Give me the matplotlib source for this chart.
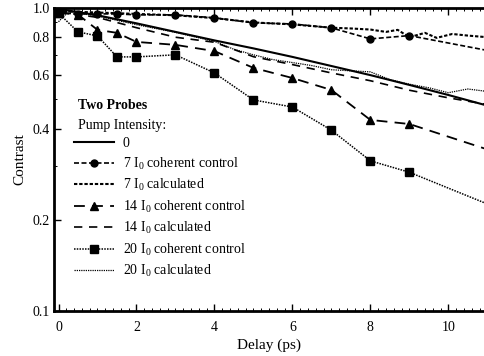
import matplotlib
matplotlib.use("Agg")
import matplotlib.pyplot as plt
from matplotlib.ticker import FixedLocator, NullFormatter, MultipleLocator
from matplotlib.lines import Line2D

plt.rcParams['font.family'] = ['Liberation Serif', 'DejaVu Serif']
plt.rcParams['mathtext.fontset'] = 'custom'
plt.rcParams['mathtext.rm'] = 'Liberation Serif'
plt.rcParams['mathtext.it'] = 'Liberation Serif:italic'

# data
x_pts = [0, 0.5, 1, 1.5, 2, 3, 4, 5, 6, 7, 8, 9, 12]
cc7 = [0.963, 0.955, 0.955, 0.955, 0.948, 0.948, 0.927, 0.892, 0.885, 0.859, 0.79, 0.81, 0.684]
cc14 = [0.963, 0.95, 0.846, 0.827, 0.772, 0.755, 0.72, 0.634, 0.587, 0.536, 0.427, 0.414, 0.31]
cc20 = [0.96, 0.833, 0.808, 0.689, 0.689, 0.70, 0.61, 0.497, 0.471, 0.395, 0.313, 0.287, 0.20]

x_zero = [0, 1, 2, 3, 4, 5, 6, 7, 8, 9, 10, 11]
zero = [0.992, 0.945, 0.889, 0.833, 0.781, 0.735, 0.689, 0.643, 0.60, 0.557, 0.516, 0.476]

x_calc7 = [0, 1, 2, 3, 4, 5, 6, 7, 7.5, 8, 8.4, 8.7, 9.0, 9.4, 9.7, 10.1, 10.5, 11]
calc7 = [0.975, 0.965, 0.955, 0.945, 0.925, 0.895, 0.882, 0.86, 0.855, 0.848, 0.833,
         0.846, 0.80, 0.827, 0.796, 0.82, 0.81, 0.80]

x_calc14 = [0, 1, 2, 3, 4, 5, 6, 7, 8, 9, 10, 11]
calc14 = [0.97, 0.93, 0.86, 0.80, 0.77, 0.69, 0.65, 0.61, 0.575, 0.535, 0.505, 0.48]

x_calc20 = [0, 0.25, 1, 2, 3, 4, 4.5, 5, 5.5, 6, 6.5, 7, 7.5, 8, 8.5, 9, 9.5, 10, 10.5, 11]
calc20 = [0.9, 0.97, 0.94, 0.88, 0.83, 0.775, 0.73, 0.70, 0.675, 0.66, 0.645, 0.625,
          0.62, 0.615, 0.58, 0.56, 0.545, 0.525, 0.54, 0.53]

fig = plt.figure(figsize=(4.85, 3.56), dpi=100)
ax = fig.add_axes([0.111, 0.126, 0.889, 0.852])

k = 'black'
ax.plot(x_zero, zero, color=k, lw=1.5, ls='-')
ax.plot(x_pts, cc7, color=k, lw=1.2, ls=(0, (3, 1.5)), marker='o', ms=5)
ax.plot(x_calc7, calc7, color=k, lw=1.5, ls=(0, (1.6, 0.9)))
ax.plot(x_pts, cc14, color=k, lw=1.3, ls=(0, (6, 4)), marker='^', ms=5.5)
ax.plot(x_calc14, calc14, color=k, lw=1.2, ls=(0, (5, 4)))
ax.plot(x_pts, cc20, color=k, lw=1.1, ls=(0, (1, 0.8)), marker='s', ms=5.5)
ax.plot(x_calc20, calc20, color=k, lw=0.9, ls=(0, (1, 0.8)))

ax.set_yscale('log')
ax.set_ylim(0.1, 1.0)
ax.set_xlim(-0.12, 10.94)
ax.yaxis.set_major_locator(FixedLocator([0.1, 0.2, 0.4, 0.6, 0.8, 1.0]))
ax.yaxis.set_minor_locator(FixedLocator([0.3, 0.5, 0.7, 0.9]))
ax.yaxis.set_minor_formatter(NullFormatter())
ax.set_yticklabels(['0.1', '0.2', '0.4', '0.6', '0.8', '1.0'])
ax.xaxis.set_major_locator(MultipleLocator(2))
ax.xaxis.set_minor_locator(MultipleLocator(0.2))
ax.tick_params(which='both', direction='in', top=True, right=False, labelsize=10)
ax.tick_params(axis='x', pad=7)
ax.tick_params(axis='y', pad=3)
ax.tick_params(which='major', length=5, width=1)
ax.tick_params(which='minor', length=2.5, width=0.7)

for s in ['left', 'bottom', 'top']:
    ax.spines[s].set_linewidth(2)
ax.spines['right'].set_visible(False)

ax.set_xlabel('Delay (ps)', fontsize=11, labelpad=3)
ax.set_ylabel('Contrast', fontsize=11, labelpad=4)

fig.text(78 / 485, 1 - 106 / 356, 'Two Probes', fontsize=10, fontweight='bold', va='center')
fig.text(78 / 485, 1 - 125 / 356, 'Pump Intensity:', fontsize=10, va='center')

handles = [
    Line2D([], [], color=k, lw=1.5, ls='-'),
    Line2D([], [], color=k, lw=1.2, ls=(0, (3, 1.5)), marker='o', ms=5),
    Line2D([], [], color=k, lw=1.5, ls=(0, (1.6, 0.9))),
    Line2D([], [], color=k, lw=1.3, ls=(0, (6, 4)), marker='^', ms=5.5),
    Line2D([], [], color=k, lw=1.2, ls=(0, (5, 4))),
    Line2D([], [], color=k, lw=1.1, ls=(0, (1, 0.8)), marker='s', ms=5.5),
    Line2D([], [], color=k, lw=0.9, ls=(0, (1, 0.8))),
]
labels = ['0',
          '7 I$_0$ coherent control',
          '7 I$_0$ calculated',
          '14 I$_0$ coherent control',
          '14 I$_0$ calculated',
          '20 I$_0$ coherent control',
          '20 I$_0$ calculated']
fig.legend(handles, labels, loc='upper left', bbox_to_anchor=(74 / 485, 1 - 137 / 356),
           frameon=False, fontsize=10, handlelength=2.9, handletextpad=0.6,
           labelspacing=0.39, borderpad=0, borderaxespad=0)

fig.savefig('out.png', dpi=100)
